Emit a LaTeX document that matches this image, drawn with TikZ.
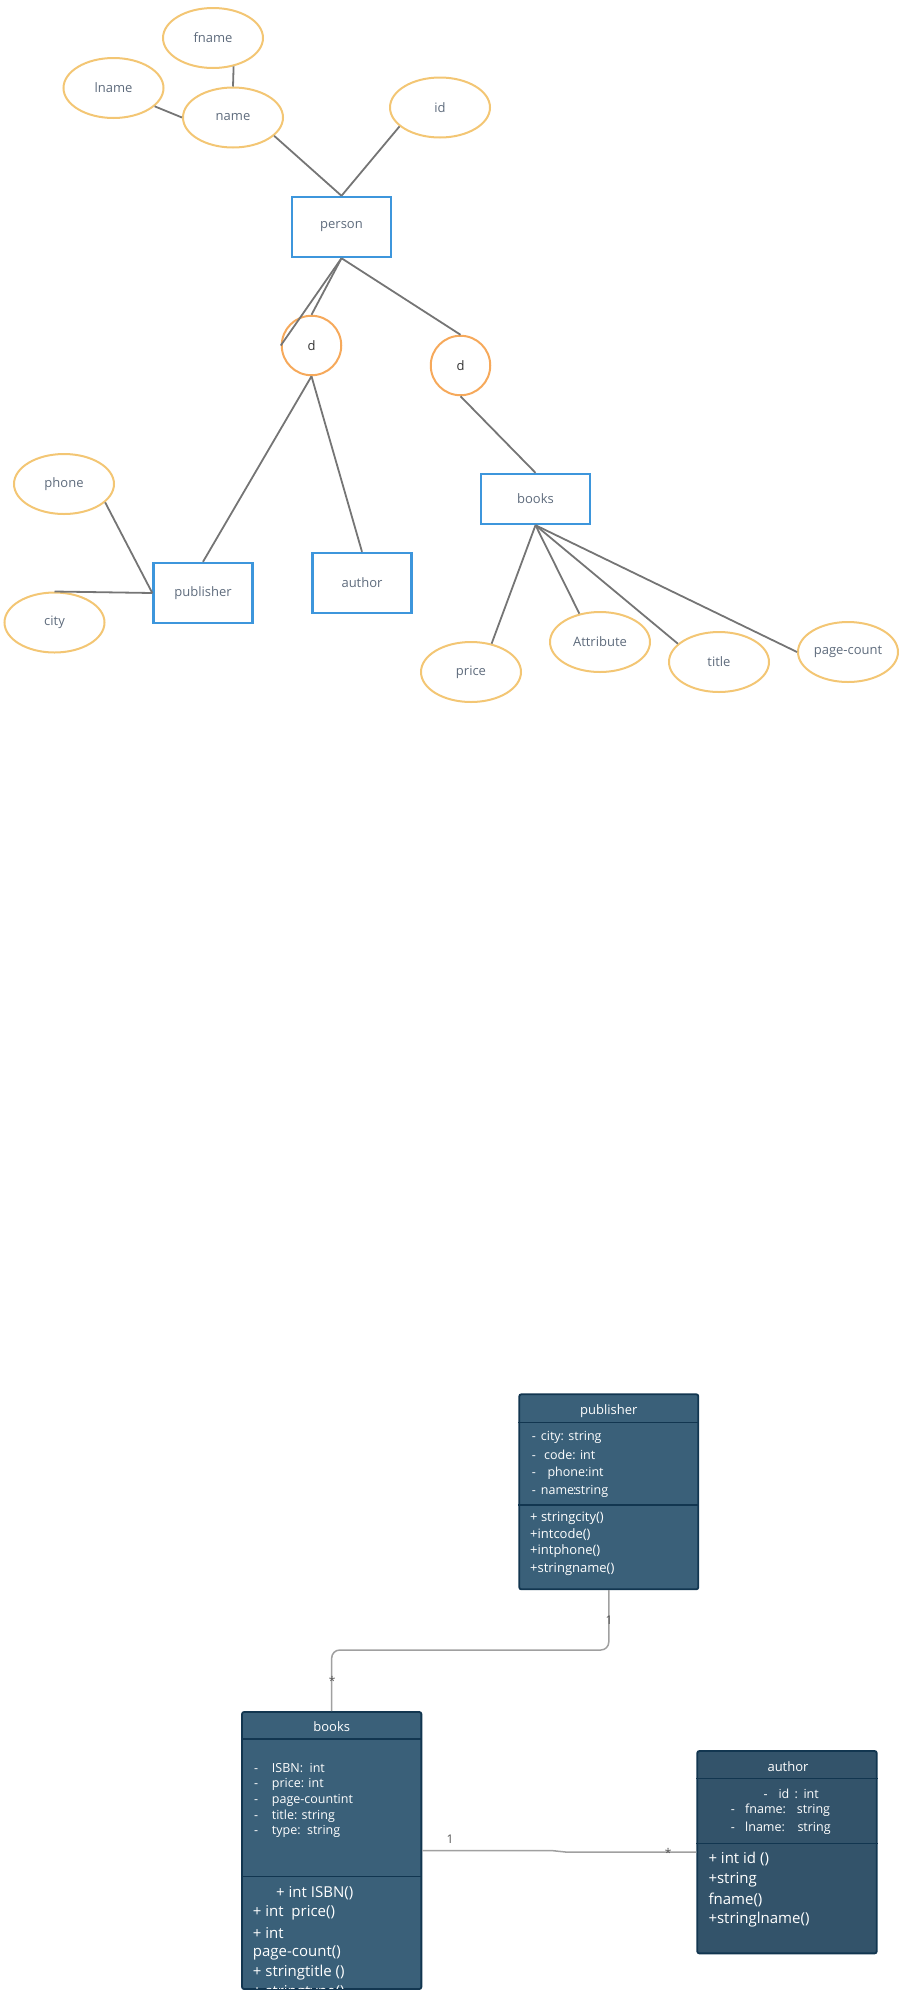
\documentclass[tikz,border=0pt]{standalone}
\usepackage{fontspec}
\setmainfont{Open Sans}
\usetikzlibrary{shapes}

\definecolor{attrborder}{HTML}{F3C674}
\definecolor{dborder}{HTML}{F6A95B}
\definecolor{entborder}{HTML}{3D96DC}
\definecolor{linegray}{HTML}{757575}
\definecolor{ertext}{HTML}{5E6B7C}
\definecolor{classfill}{HTML}{3A6079}
\definecolor{authfill}{HTML}{33536A}
\definecolor{classborder}{HTML}{123650}
\definecolor{umlgray}{HTML}{A0A0A0}
\definecolor{multext}{HTML}{555555}

\begin{document}
\begin{tikzpicture}[x=1pt, y=-1pt]
      \tikzstyle{attrib} = [
        ellipse,
        draw=attrborder,
        line width=2pt,
        minimum width=100pt,
        minimum height=60pt,
        inner sep=0pt,
        text=ertext,
        font=\fontsize{13}{15}\selectfont
      ]

      \tikzstyle{disjoint} = [
        circle,
        draw=dborder,
        line width=2pt,
        minimum size=59.5pt,
        inner sep=0pt,
        text=black!80,
        font=\fontsize{13}{15}\selectfont
      ]

      \tikzstyle{entity} = [
        rectangle,
        draw=entborder,
        line width=2.4pt,
        minimum width=99pt,
        minimum height=60pt,
        inner sep=0pt,
        text=ertext,
        font=\fontsize{13}{15}\selectfont
      ]

      \tikzstyle{erlink} = [
        draw=linegray,
        line width=1.8pt
      ]

      \tikzstyle{classbox} = [
        rectangle,
        draw=classborder,
        fill=classfill,
        line width=1.8pt,
        rounded corners=2pt,
        inner sep=0pt
      ]

      \tikzstyle{classrule} = [
        draw=classborder,
        line width=1.8pt
      ]

      \tikzstyle{classhead} = [
        inner sep=0pt,
        text=white,
        font=\fontsize{13}{15}\selectfont
      ]

      \tikzstyle{classtext} = [
        anchor=west,
        inner sep=0pt,
        text=white,
        font=\fontsize{12.5}{15}\selectfont
      ]

      \tikzstyle{methodtext} = [
        anchor=west,
        inner sep=0pt,
        text=white,
        font=\fontsize{15}{18}\selectfont
      ]

      \tikzstyle{umlline} = [
        draw=umlgray,
        line width=1.5pt
      ]

      \tikzstyle{mult} = [
        inner sep=0pt,
        text=multext,
        font=\fontsize{12}{14}\selectfont
      ]

      \useasboundingbox (0,0) rectangle (899,1998);

      % ER part
      \node[attrib] (fname) at (213,38) {fname};
      \node[attrib] (lname) at (113.5,88) {lname};
      \node[attrib] (name) at (233,117.5) {name};
      \node[attrib] (id) at (440,107.5) {id};
      \node[entity] (person) at (341.5,227) {person};
      \node[disjoint] (d1) at (311.5,345.5) {d};
      \node[disjoint] (d2) at (460.5,365.5) {d};
      \node[attrib] (phone) at (64,484) {phone};
      \node[attrib] (city) at (54.5,622.5) {city};
      \node[entity] (publisher) at (203,593) {publisher};
      \node[entity] (author) at (362,583) {author};
      \node[entity, minimum width=109pt, minimum height=50pt] (books) at (535.5,499) {books};
      \node[attrib] (price) at (471,672) {price};
      \node[attrib] (attribute) at (600,642) {Attribute};
      \node[attrib] (title) at (719,662) {title};
      \node[attrib] (pagecount) at (848,652) {page-count};

      \draw[erlink] (name.north) -- (fname.-54.5);
      \draw[erlink] (lname.-24) -- (name.west);
      \draw[erlink] (name.-24) -- (person.north);
      \draw[erlink] (id.-155) -- (person.north);
      \draw[erlink] (person.south) -- (d1.west);
      \draw[erlink] (person.south) -- (d1.north);
      \draw[erlink] (person.south) -- (d2.north);
      \draw[erlink] (d1.south) -- (publisher.north);
      \draw[erlink] (d1.south) -- (author.north);
      \draw[erlink] (d2.south) -- (books.north);
      \draw[erlink] (phone.-24) -- (publisher.west);
      \draw[erlink] (city.north) -- (publisher.west);
      \draw[erlink] (books.south) -- (price.54);
      \draw[erlink] (books.south) -- (attribute.126.5);
      \draw[erlink] (books.south) -- (title.156);
      \draw[erlink] (books.south) -- (pagecount.west);

      % class diagram
      \node[classbox, minimum width=179pt, minimum height=195pt] (pubclass) at (608.8,1491.8) {};
      \draw[classrule] ([yshift=-29pt]pubclass.north west) -- ([yshift=-29pt]pubclass.north east);
      \draw[classrule] ([yshift=-111.7pt]pubclass.north west) -- ([yshift=-111.7pt]pubclass.north east);
      \node[classhead] (pubname) at (608.8,1410.7) {publisher};
      \node[classtext] (pubattr1) at (531.7,1437.7) {\makebox[9pt][l]{-}city: string};
      \node[classtext] (pubattr2) at (531.7,1455.3) {\makebox[12.3pt][l]{-}code: int};
      \node[classtext] (pubattr3) at (531.7,1473.3) {\makebox[15.6pt][l]{-}phone:int};
      \node[classtext] (pubattr4) at (531.7,1491.7) {\makebox[9pt][l]{-}name\kern-1pt:\kern-1.5pt string};
      \node[classtext, font=\fontsize{13}{15}\selectfont] (pubop1) at (530,1518) {+ stringcity()};
      \node[classtext, font=\fontsize{13}{15}\selectfont] (pubop2) at (530,1534.3) {+intcode()};
      \node[classtext, font=\fontsize{13}{15}\selectfont] (pubop3) at (530,1550.7) {+intphone()};
      \node[classtext, font=\fontsize{13}{15}\selectfont] (pubop4) at (530,1569) {+stringname()};

      \node[classbox, minimum width=179.3pt, minimum height=277pt] (bookclass) at (331.7,1850.5) {};
      \draw[classrule] ([yshift=-28pt]bookclass.north west) -- ([yshift=-28pt]bookclass.north east);
      \draw[classrule] ([yshift=-165.3pt]bookclass.north west) -- ([yshift=-165.3pt]bookclass.north east);
      \node[classhead] (bookname) at (331.7,1726.7) {books};
      \node[classtext] (bookattr1) at (254,1768.3) {\makebox[17.7pt][l]{-}ISBN:\ \ int};
      \node[classtext] (bookattr2) at (254,1784.3) {\makebox[17.7pt][l]{-}price: int};
      \node[classtext] (bookattr3) at (254,1800) {\makebox[17.7pt][l]{-}page-countint};
      \node[classtext] (bookattr4) at (254,1816) {\makebox[17.7pt][l]{-}title: string};
      \node[classtext] (bookattr5) at (254,1831.7) {\makebox[17.7pt][l]{-}type:\ \ string};
      \begin{scope}
        \clip ([xshift=1pt,yshift=1pt]bookclass.south west) rectangle ([xshift=-1pt,yshift=-1pt]bookclass.north east);
        \node[methodtext] (bookop1) at (276,1893.3) {+ int ISBN()};
        \node[methodtext] (bookop2) at (252.7,1912.7) {+ int\ \ price()};
        \node[methodtext] (bookop3) at (252.7,1932.7) {+ int};
        \node[methodtext] (bookop4) at (252.7,1952.7) {page-count()};
        \node[methodtext] (bookop5) at (252.7,1972.7) {+ stringtitle ()};
        \node[methodtext] (bookop6) at (252.7,1993.2) {+ stringtype()};
      \end{scope}

      \node[classbox, fill=authfill, minimum width=179.4pt, minimum height=202.3pt] (authclass) at (787,1852.2) {};
      \draw[classrule] ([yshift=-28.3pt]authclass.north west) -- ([yshift=-28.3pt]authclass.north east);
      \draw[classrule] ([yshift=-93.3pt]authclass.north west) -- ([yshift=-93.3pt]authclass.north east);
      \node[classhead] (authname) at (788,1766.7) {author};
      \node[classtext] (authattr1) at (763.3,1794) {\makebox[15pt][l]{-}\makebox[16pt][l]{id}\makebox[9pt][l]{:}int};
      \node[classtext] (authattr2) at (730.7,1810) {\makebox[14.3pt][l]{-}\makebox[51.7pt][l]{fname:}string};
      \node[classtext] (authattr3) at (730.7,1828.3) {\makebox[14.3pt][l]{-}\makebox[52.3pt][l]{lname:}string};
      \node[methodtext] (authop1) at (708.3,1859.3) {+ int id ()};
      \node[methodtext] (authop2) at (708.3,1880) {+string};
      \node[methodtext] (authop3) at (708.3,1900) {fname()};
      \node[methodtext] (authop4) at (708.3,1920) {+stringlname()};

      \coordinate (pbturn) at (0,1650);
      \draw[umlline, rounded corners=8pt] (pubclass.south) -- (pubclass.south |- pbturn)
        -- (bookclass.north |- pbturn) -- (bookclass.north);
      \node[mult] (pbone) at (609,1620) {1};
      \node[mult] (pbmany) at (332.3,1681) {*};

      \draw[umlline] (bookclass.east) -- +(129,0) -- ([xshift=-129pt]authclass.west) -- (authclass.west);
      \node[mult] (baone) at (450,1839.3) {1};
      \node[mult] (bamany) at (668.3,1852.5) {*};
\end{tikzpicture}
\end{document}
